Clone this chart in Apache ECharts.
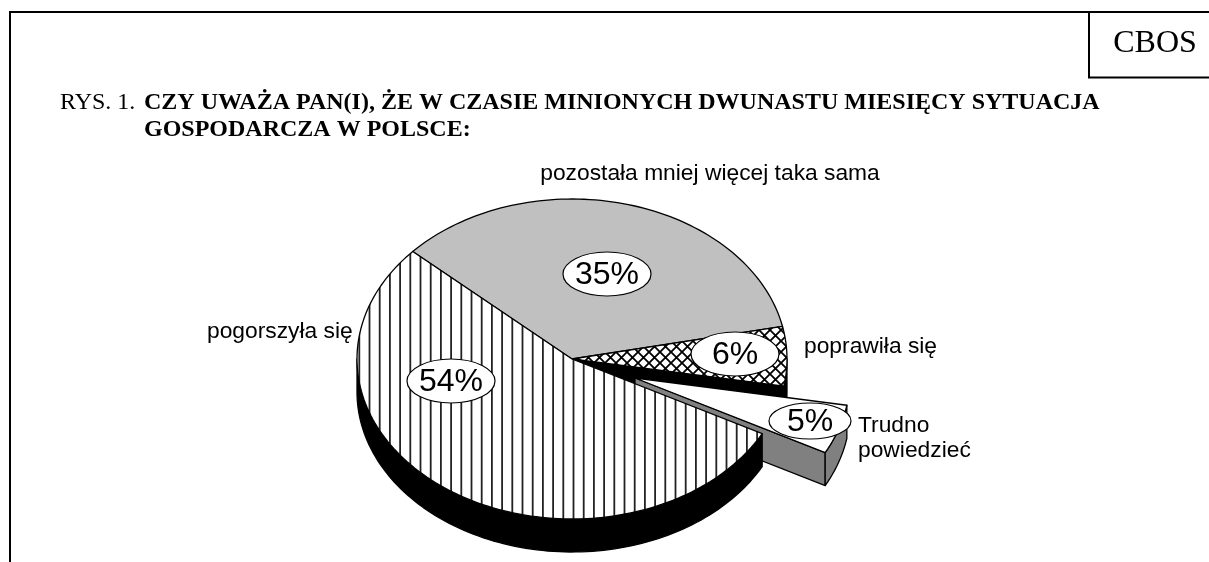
<!DOCTYPE html>
<html>
<head>
<meta charset="utf-8">
<title>CBOS</title>
<script src="https://cdn.jsdelivr.net/npm/echarts@6/dist/echarts.min.js"></script>
<style>
  html, body { margin: 0; padding: 0; background: #fff; }
  #chart { width: 1209px; height: 562px; }
</style>
</head>
<body>
<div id="chart"></div>
<script>
// data, in drawing order (clockwise from the top left)
const categories = ['pozostała mniej więcej taka sama', 'poprawiła się', 'Trudno\npowiedzieć', 'pogorszyła się'];
const shares = [35, 6, 5, 54];
const shareLabels = ['35%', '6%', '5%', '54%'];

// pie geometry
const cx = 572, cy = 359, rx = 215, ry = 160, depth = 33;
const startAngle = 137.8;
const explodeDx = 63, explodeDy = 19;
const explodedIndex = 2;

// label placement
const bubbles = [
  { x: 607, y: 274, rx: 44, ry: 22 },
  { x: 735, y: 354, rx: 44, ry: 22 },
  { x: 810, y: 421, rx: 41, ry: 18 },
  { x: 451, y: 381, rx: 44, ry: 22 }
];
const namePos = [
  { x: 710, y: 173.5, align: 'center' },
  { x: 804, y: 347, align: 'left' },
  { x: 858, y: 438, align: 'left' },
  { x: 207, y: 331.5, align: 'left' }
];

const SERIF = '"Liberation Serif", serif';
const SANS = '"Liberation Sans", Arial, sans-serif';

function verticalHatch() {
  const c = document.createElement('canvas');
  c.width = 51; c.height = 8;
  const g = c.getContext('2d');
  g.fillStyle = '#fff';
  g.fillRect(0, 0, 51, 8);
  g.fillStyle = '#222';
  [1.4, 11.6, 21.8, 32, 42.2].forEach(x => g.fillRect(x, 0, 1.8, 8));
  return { image: c, repeat: 'repeat' };
}

function crossHatch() {
  const c = document.createElement('canvas');
  const s = 11;
  c.width = s; c.height = s;
  const g = c.getContext('2d');
  g.fillStyle = '#fff';
  g.fillRect(0, 0, s, s);
  g.strokeStyle = '#000';
  g.lineWidth = 1.8;
  g.beginPath();
  g.moveTo(-1, -1); g.lineTo(s + 1, s + 1);
  g.moveTo(-1, s + 1); g.lineTo(s + 1, -1);
  g.stroke();
  return { image: c, repeat: 'repeat' };
}

const topFill = ['#c0c0c0', crossHatch(), '#ffffff', verticalHatch()];
const wallFill = ['#c0c0c0', '#000000', '#808080', '#000000'];

const rad = a => a * Math.PI / 180;

function arcPoints(ox, oy, from, to) {
  const pts = [];
  const n = Math.max(2, Math.ceil(Math.abs(from - to) / 1.5));
  for (let i = 0; i <= n; i++) {
    const a = rad(from + (to - from) * i / n);
    pts.push([ox + rx * Math.cos(a), oy - ry * Math.sin(a)]);
  }
  return pts;
}

function renderSlice(params, api) {
  const i = params.dataIndex;
  let from = startAngle;
  for (let k = 0; k < i; k++) from -= shares[k] * 3.6;
  const to = from - api.value(0) * 3.6;
  const ox = cx + (i === explodedIndex ? explodeDx : 0);
  const oy = cy + (i === explodedIndex ? explodeDy : 0);
  const children = [];
  const line = { stroke: '#000', lineWidth: 1.3, lineJoin: 'round' };

  // cut face on the trailing edge
  if (Math.cos(rad(to)) > 0) {
    const e = arcPoints(ox, oy, to, to)[0];
    children.push({
      type: 'polygon',
      shape: { points: [[ox, oy], e, [e[0], e[1] + depth], [ox, oy + depth]] },
      style: Object.assign({ fill: wallFill[i] }, line)
    });
  }
  // outer wall, only the part facing the viewer
  const wFrom = Math.min(from, 0), wTo = Math.max(to, -180);
  if (wFrom > wTo) {
    const upper = arcPoints(ox, oy, wFrom, wTo);
    const lower = upper.map(p => [p[0], p[1] + depth]).reverse();
    children.push({
      type: 'polygon',
      shape: { points: upper.concat(lower) },
      style: Object.assign({ fill: wallFill[i] }, line)
    });
  }
  // top face
  children.push({
    type: 'polygon',
    shape: { points: [[ox, oy]].concat(arcPoints(ox, oy, from, to)) },
    style: Object.assign({ fill: topFill[i] }, line)
  });
  return { type: 'group', children };
}

function renderLabel(params, api) {
  const i = params.dataIndex;
  const b = bubbles[i];
  const n = namePos[i];
  return {
    type: 'group',
    children: [
      {
        type: 'ellipse',
        shape: { cx: b.x, cy: b.y, rx: b.rx, ry: b.ry },
        style: { fill: '#fff', stroke: '#000', lineWidth: 1.2 }
      },
      {
        type: 'text',
        style: {
          text: shareLabels[i], x: b.x, y: b.y + 1,
          align: 'center', verticalAlign: 'middle',
          font: '32px ' + SANS, fill: '#000'
        }
      },
      {
        type: 'text',
        style: {
          text: categories[i], x: n.x, y: n.y,
          align: n.align, verticalAlign: 'middle', lineHeight: 25,
          font: '22.8px ' + SANS, fill: '#000'
        }
      }
    ]
  };
}

const chart = echarts.init(document.getElementById('chart'));
chart.setOption({
  animation: false,
  backgroundColor: '#fff',
  graphic: [
    { type: 'line', shape: { x1: 10, y1: 12, x2: 1209, y2: 12 }, style: { stroke: '#000', lineWidth: 2 } },
    { type: 'line', shape: { x1: 10, y1: 11, x2: 10, y2: 562 }, style: { stroke: '#000', lineWidth: 2 } },
    { type: 'line', shape: { x1: 1089, y1: 12, x2: 1089, y2: 78 }, style: { stroke: '#000', lineWidth: 2 } },
    { type: 'line', shape: { x1: 1088, y1: 77.5, x2: 1209, y2: 77.5 }, style: { stroke: '#000', lineWidth: 2 } },
    { type: 'text', style: { text: 'CBOS', x: 1155, y: 44, align: 'center', verticalAlign: 'middle', font: '32px ' + SERIF, fill: '#000' } },
    { type: 'text', style: { text: 'RYS. 1. ', x: 60, y: 103, verticalAlign: 'middle', font: '24px ' + SERIF, fill: '#000' } },
    { type: 'text', style: { text: 'CZY UWAŻA PAN(I), ŻE W CZASIE MINIONYCH DWUNASTU MIESIĘCY SYTUACJA', x: 144, y: 103, verticalAlign: 'middle', font: 'bold 24px ' + SERIF, fill: '#000' } },
    { type: 'text', style: { text: 'GOSPODARCZA W POLSCE:', x: 144, y: 130, verticalAlign: 'middle', font: 'bold 24px ' + SERIF, fill: '#000' } }
  ],
  series: [
    {
      type: 'custom',
      coordinateSystem: 'none',
      silent: true,
      renderItem: renderSlice,
      data: shares.map(v => [v]),
      z: 2
    },
    {
      type: 'custom',
      coordinateSystem: 'none',
      silent: true,
      renderItem: renderLabel,
      data: shares.map(v => [v]),
      z: 3
    }
  ]
});
</script>
</body>
</html>
